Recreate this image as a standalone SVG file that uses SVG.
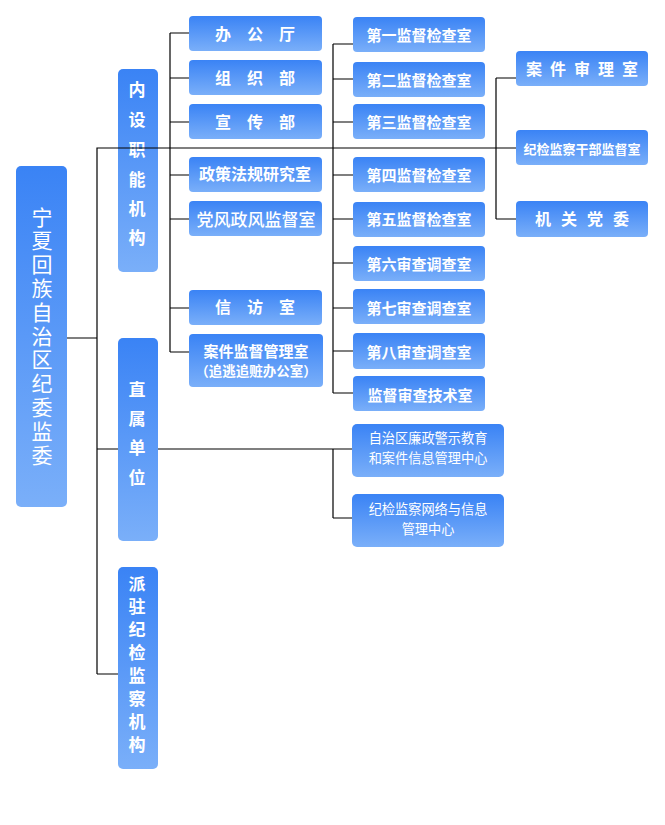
<svg xmlns="http://www.w3.org/2000/svg" width="665" height="825" viewBox="0 0 665 825">
<defs>
<linearGradient id="g" x1="0" y1="0" x2="0" y2="1">
<stop offset="0" stop-color="#3a83f5"/>
<stop offset="1" stop-color="#7aaff9"/>
</linearGradient>
<style>
.b{fill:url(#g);}
text{fill:#fff;font-family:"Noto Sans CJK SC","Noto Sans",sans-serif;text-anchor:middle;dominant-baseline:central;}
.t15{font-size:15px;font-weight:bold;}
.t16{font-size:16px;font-weight:bold;}
.v{font-size:17px;font-weight:bold;}
.r{font-size:21px;writing-mode:vertical-rl;letter-spacing:2.8px;}
.s{font-size:13.2px;}
.c{fill:none;stroke:#000;stroke-width:1.2;}
</style>
</defs>
<rect width="665" height="825" fill="#fff"/>

<g id="root"><rect class="b" x="16" y="166" width="51" height="341" rx="5"/>
<text class="r" x="42" y="337">宁夏回族自治区纪委监委</text></g>

<g id="neishe"><rect class="b" x="118" y="69" width="40" height="203" rx="5"/>
<text class="v"><tspan x="137" y="88">内</tspan><tspan x="137" y="118">设</tspan><tspan x="137" y="148">职</tspan><tspan x="137" y="178">能</tspan><tspan x="137" y="207">机</tspan><tspan x="137" y="236">构</tspan></text></g>

<g id="zhishu"><rect class="b" x="118" y="338" width="40" height="203" rx="5"/>
<text class="v"><tspan x="137" y="388">直</tspan><tspan x="137" y="417">属</tspan><tspan x="137" y="446">单</tspan><tspan x="137" y="476">位</tspan></text></g>

<g id="paizhu"><rect class="b" x="118" y="567" width="40" height="202" rx="5"/>
<text class="v"><tspan x="137" y="582">派</tspan><tspan x="137" y="605">驻</tspan><tspan x="137" y="628">纪</tspan><tspan x="137" y="651">检</tspan><tspan x="137" y="674">监</tspan><tspan x="137" y="697">察</tspan><tspan x="137" y="720">机</tspan><tspan x="137" y="743">构</tspan></text></g>

<g id="bgt"><rect class="b" x="189" y="16" width="133" height="35" rx="4"/><text class="t16" x="255" y="33">办　公　厅</text></g>
<g id="zzb"><rect class="b" x="189" y="60" width="133" height="35" rx="4"/><text class="t16" x="255" y="77">组　织　部</text></g>
<g id="xcb"><rect class="b" x="189" y="104" width="133" height="35" rx="4"/><text class="t16" x="255" y="121">宣　传　部</text></g>
<g id="zcfg"><rect class="b" x="189" y="157" width="133" height="35" rx="4"/><text class="t16" x="255" y="173">政策法规研究室</text></g>
<g id="dfzf"><rect class="b" x="189" y="201" width="133" height="35" rx="4"/><text x="256" y="218" style="font-size:17px;font-weight:500">党风政风监督室</text></g>
<g id="xfs"><rect class="b" x="189" y="290" width="133" height="35" rx="4"/><text class="t16" x="255" y="306">信　访　室</text></g>
<g id="ajjd"><rect class="b" x="189" y="334" width="134" height="53" rx="4"/><text class="t15" x="256" y="350">案件监督管理室</text><text x="256" y="370" style="font-size:13.5px;font-weight:bold">（追逃追赃办公室）</text></g>

<g id="d1"><rect class="b" x="353" y="17" width="132" height="35" rx="4"/><text class="t15" x="419" y="34">第一监督检查室</text></g>
<g id="d2"><rect class="b" x="353" y="62" width="132" height="35" rx="4"/><text class="t15" x="419" y="79">第二监督检查室</text></g>
<g id="d3"><rect class="b" x="353" y="104" width="132" height="35" rx="4"/><text class="t15" x="419" y="121">第三监督检查室</text></g>
<g id="d4"><rect class="b" x="353" y="157" width="132" height="35" rx="4"/><text class="t15" x="419" y="174">第四监督检查室</text></g>
<g id="d5"><rect class="b" x="353" y="202" width="132" height="35" rx="4"/><text class="t15" x="419" y="218">第五监督检查室</text></g>
<g id="d6"><rect class="b" x="353" y="246" width="132" height="35" rx="4"/><text class="t15" x="419" y="263">第六审查调查室</text></g>
<g id="d7"><rect class="b" x="353" y="289" width="132" height="35" rx="4"/><text class="t15" x="419" y="307">第七审查调查室</text></g>
<g id="d8"><rect class="b" x="353" y="333" width="132" height="36" rx="4"/><text class="t15" x="419" y="351">第八审查调查室</text></g>
<g id="jdsc"><rect class="b" x="353" y="376" width="132" height="35" rx="4"/><text class="t15" x="420" y="394">监督审查技术室</text></g>

<g id="lzjs"><rect class="b" x="352" y="424" width="152" height="53" rx="5"/><text class="s" x="428" y="437.5">自治区廉政警示教育</text><text class="s" x="428" y="457">和案件信息管理中心</text></g>
<g id="wlxx"><rect class="b" x="352" y="494" width="152" height="53" rx="5"/><text class="s" x="428" y="508.5">纪检监察网络与信息</text><text class="s" x="428" y="528">管理中心</text></g>

<g id="ajsl"><rect class="b" x="516" y="51" width="132" height="35" rx="4"/><text class="t16" x="586" y="68" letter-spacing="8">案件审理室</text></g>
<g id="gbjd"><rect class="b" x="516" y="130" width="132" height="35" rx="4"/><text x="582" y="148" style="font-size:13px;font-weight:bold">纪检监察干部监督室</text></g>
<g id="jgdw"><rect class="b" x="516" y="201" width="132" height="36" rx="4"/><text class="t16" x="587" y="218" letter-spacing="10">机关党委</text></g>

<g id="connectors">
<path class="c" d="M67,338H97M97,674V148H516M97,449H118M97,674H118"/>
<path class="c" d="M170,33V352M170,33H189M170,78H189M170,122H189M170,175H189M170,219H189M170,308H189M170,352H189"/>
<path class="c" d="M333,44V393M333,44H353M333,79H353M333,122H353M333,175H353M333,219H353M333,263H353M333,308H353M333,351H353M333,393H353"/>
<path class="c" d="M496,78V219M496,78H516M496,219H516"/>
<path class="c" d="M158,449H333M333,449V518M333,449H352M333,518H352"/>
</g>
</svg>
